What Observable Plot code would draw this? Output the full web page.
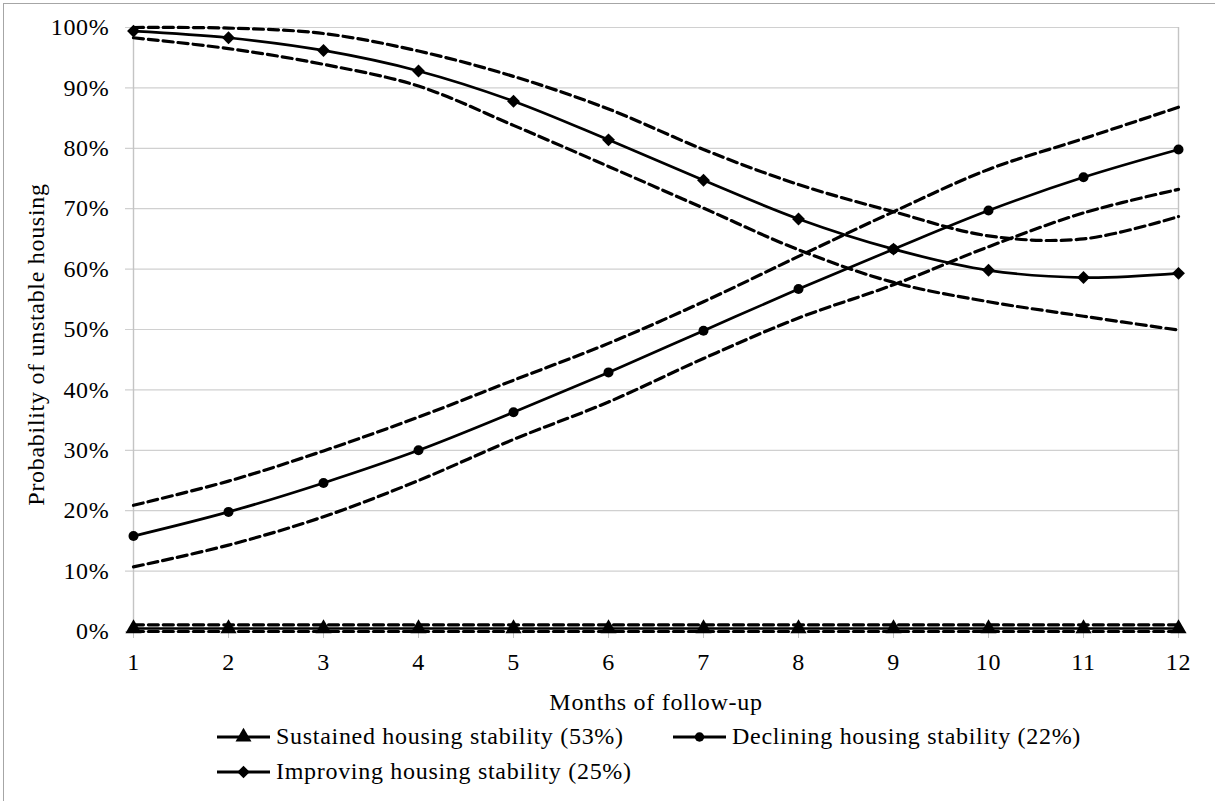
<!DOCTYPE html>
<html>
<head>
<meta charset="utf-8">
<script src="https://cdn.jsdelivr.net/npm/d3@7"></script>
<script src="https://cdn.jsdelivr.net/npm/@observablehq/plot@0.6"></script>
<style>
  html, body { margin: 0; padding: 0; background: #fff; overflow: hidden; }
  #wrap { position: relative; width: 1215px; height: 801px; font-family: "Liberation Serif", "Times New Roman", serif; color: #000; }
  #border { position: absolute; left: 3px; top: 3px; width: 1215px; height: 801px; border: 1px solid #a6a6a6; box-sizing: border-box; }
  #chart { position: absolute; left: 0; top: 0; }
  #legend { position: absolute; left: 217px; top: 719px; display: grid; grid-template-columns: 456px auto;
            font-size: 24px; letter-spacing: 0.7px; line-height: 35px; }
  .item { display: flex; align-items: center; white-space: nowrap; }
  .item svg { margin-right: 3px; }
</style>
</head>
<body>
<div id="wrap">
  <div id="border"></div>
  <div id="chart"></div>
  <div id="legend"></div>
</div>
<script>
// ---- data (values in %) ----
const months = [1, 2, 3, 4, 5, 6, 7, 8, 9, 10, 11, 12];
const yTicks = [0, 10, 20, 30, 40, 50, 60, 70, 80, 90, 100];

const sustained     = [0.5, 0.5, 0.5, 0.5, 0.5, 0.5, 0.5, 0.5, 0.5, 0.5, 0.5, 0.5];
const sustainedHigh = [1.1, 1.1, 1.1, 1.1, 1.1, 1.1, 1.1, 1.1, 1.1, 1.1, 1.1, 1.1];
const sustainedLow  = [0.0, 0.0, 0.0, 0.0, 0.0, 0.0, 0.0, 0.0, 0.0, 0.0, 0.0, 0.0];

const declining     = [15.8, 19.8, 24.6, 30.0, 36.3, 42.9, 49.8, 56.7, 63.3, 69.7, 75.2, 79.8];
const decliningHigh = [20.9, 24.9, 29.9, 35.5, 41.6, 47.7, 54.6, 62.1, 69.5, 76.5, 81.6, 86.8];
const decliningLow  = [10.7, 14.3, 19.0, 25.0, 31.8, 38.0, 45.2, 51.9, 57.4, 63.7, 69.3, 73.2];

const improving     = [99.4, 98.3, 96.2, 92.8, 87.8, 81.4, 74.7, 68.3, 63.3, 59.8, 58.6, 59.3];
const improvingHigh = [100.0, 99.9, 99.0, 96.1, 91.9, 86.5, 79.8, 74.0, 69.5, 65.5, 65.0, 68.7];
const improvingLow  = [98.3, 96.5, 93.9, 90.3, 83.8, 77.0, 70.1, 63.2, 57.8, 54.6, 52.2, 49.9];

const seriesNames = [
  "Sustained housing stability (53%)",
  "Declining housing stability (22%)",
  "Improving housing stability (25%)"
];
const seriesSymbols = ["triangle", "circle", "diamond2"];
const seriesR = [6, 5, 5.8];
const xTitle = "Months of follow-up";
const yTitle = "Probability of unstable housing";

// ---- build tables ----
const mains = [sustained, declining, improving];
const bands = [[sustainedHigh, sustainedLow], [decliningHigh, decliningLow], [improvingHigh, improvingLow]];

const mainRows = [];
mains.forEach((vals, i) => vals.forEach((v, j) => mainRows.push({month: months[j], value: v, group: seriesNames[i], idx: i})));
const ciRows = [];
bands.forEach((pair, i) => pair.forEach((vals, k) => vals.forEach((v, j) =>
  ciRows.push({month: months[j], value: v, key: i + "-" + k}))));

const dotMarks = seriesNames.map((name, i) =>
  Plot.dot(mainRows.filter(d => d.idx === i), {
    x: "month", y: "value", symbol: seriesSymbols[i], r: seriesR[i], fill: "black", stroke: "none"
  }));

const plot = Plot.plot({
  width: 1215,
  height: 719,
  marginLeft: 133,
  marginRight: 37,
  marginTop: 27,
  marginBottom: 88,
  style: { fontFamily: '"Liberation Serif", "Times New Roman", serif', fontSize: "24px", letterSpacing: "0.7px", background: "transparent", overflow: "visible" },
  x: { domain: d3.extent(months), label: null },
  y: { domain: [0, 100], label: null },
  marks: [
    Plot.gridY(yTicks, { stroke: "#d0d0d0", strokeOpacity: 1, strokeWidth: 1.2, insetLeft: -8 }),
    Plot.ruleX(d3.extent(months), { stroke: "#c4c4c4", strokeWidth: 1.4 }),
    Plot.axisX(months, { stroke: "#c4c4c4", fill: "black", tickSize: 7, tickPadding: 14, label: null, fontSize: 24 }),
    Plot.axisY(yTicks, { tickSize: 0, tickPadding: 24, tickFormat: d => d + "%", label: null, fill: "black", fontSize: 24 }),
    Plot.line(ciRows, { x: "month", y: "value", z: "key", curve: "catmull-rom", stroke: "black", strokeWidth: 3.2, strokeDasharray: "10,5" }),
    Plot.line(mainRows, { x: "month", y: "value", z: "group", curve: "catmull-rom", stroke: "black", strokeWidth: 2.7 }),
    ...dotMarks,
    Plot.text([xTitle], { text: d => d, frameAnchor: "bottom", lineAnchor: "middle", textAnchor: "middle", dy: 71, fill: "black", fontSize: 24 }),
    Plot.text([yTitle], { text: d => d, frameAnchor: "left", rotate: -90, textAnchor: "middle", lineAnchor: "middle", dx: -97, dy: 15, fill: "black", fontSize: 24 })
  ]
});
document.getElementById("chart").appendChild(plot);

// ---- legend (HTML, below the chart svg) ----
const legend = d3.select("#legend");
[0, 1, 2].forEach(i => {
  const item = legend.append("div").attr("class", "item");
  const s = item.append("svg").attr("width", 56).attr("height", 20);
  s.append("line").attr("x1", 0).attr("x2", 53).attr("y1", 10).attr("y2", 10)
    .attr("stroke", "black").attr("stroke-width", 3);
  const symType = { triangle: d3.symbolTriangle, circle: d3.symbolCircle, diamond2: d3.symbolDiamond2 }[seriesSymbols[i]];
  const sizes = [110, 70, 100];
  s.append("path").attr("transform", "translate(26.5,10)")
    .attr("d", d3.symbol(symType, sizes[i])()).attr("fill", "black");
  item.append("span").text(seriesNames[i]);
});
</script>
</body>
</html>
